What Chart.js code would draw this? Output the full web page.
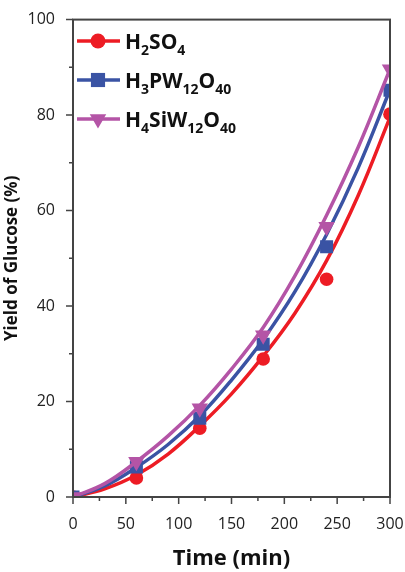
<!DOCTYPE html>
<html>
<head>
<meta charset="utf-8">
<script src="https://cdn.jsdelivr.net/npm/chart.js@4"></script>
<style>
  html, body { margin: 0; padding: 0; background: #fff; }
  #wrap { width: 405px; height: 572px; }
</style>
</head>
<body>
<div id="wrap"><canvas id="chart" width="405" height="572"></canvas></div>
<script>
const timeMin = [0, 60, 120, 180, 240, 300];
const yieldH2SO4 = [0, 4.0, 14.4, 28.9, 45.6, 80.2];
const yieldH3PW = [0, 6.3, 16.5, 32.0, 52.4, 85.2];
const yieldH4SiW = [0, 7.4, 18.6, 33.9, 56.6, 89.6];

// Fitted curves, every 30 min
const fitTime = [0, 30, 60, 90, 120, 150, 180, 210, 240, 270, 300];
const fitH2SO4 = [0, 1.7, 4.6, 9.0, 14.9, 21.6, 29.5, 38.5, 49.5, 63.2, 79.5];
const fitH3PW = [0, 2.3, 6.2, 11.0, 17.0, 24.5, 33.0, 43.0, 55.0, 69.0, 85.3];
const fitH4SiW = [0, 2.8, 7.4, 12.8, 19.2, 26.8, 35.5, 46.3, 59.0, 73.3, 89.6];

const seriesLabels = ['H₂SO₄', 'H₃PW₁₂O₄₀', 'H₄SiW₁₂O₄₀'];
const xTicks = [0, 50, 100, 150, 200, 250, 300];
const yTicks = [0, 20, 40, 60, 80, 100];

const colors = ['#ed1c24', '#3a53a4', '#b454a6'];
const axisColor = '#444444';
const FONT = "'Open Sans', sans-serif";

function toPoints(xs, values) {
    return values.map((v, i) => ({ x: xs[i], y: v }));
}

// marker for the legend, same shapes as the chart
function drawMarker(ctx, style, x, y, r, color) {
    ctx.save();
    ctx.fillStyle = color;
    ctx.beginPath();
    if (style === 'circle') {
        ctx.arc(x, y, r, 0, Math.PI * 2);
    } else if (style === 'rect') {
        const s = r * Math.SQRT1_2;
        ctx.rect(x - s, y - s, s * 2, s * 2);
    } else {
        // pointing down
        ctx.moveTo(x, y + r);
        ctx.lineTo(x - r * Math.sin(Math.PI / 3), y - r / 2);
        ctx.lineTo(x + r * Math.sin(Math.PI / 3), y - r / 2);
        ctx.closePath();
    }
    ctx.fill();
    ctx.restore();
}

// chemical formula with subscript digits
const subMap = { '₀': '0', '₁': '1', '₂': '2', '₃': '3', '₄': '4' };
function drawFormula(ctx, text, x, y) {
    let cx = x;
    for (const ch of text) {
        if (subMap[ch]) {
            ctx.font = "bold 14px " + FONT;
            ctx.fillText(subMap[ch], cx, y + 6);
            cx += ctx.measureText(subMap[ch]).width;
        } else {
            ctx.font = "bold 21px " + FONT;
            ctx.fillText(ch, cx, y);
            cx += ctx.measureText(ch).width;
        }
    }
}

const frameAndLegend = {
    id: 'frameAndLegend',
    afterDraw(chart) {
        const ctx = chart.ctx;
        const a = chart.chartArea;
        const xs = chart.scales.x;
        const ys = chart.scales.y;
        ctx.save();
        ctx.strokeStyle = axisColor;
        ctx.lineWidth = 2;
        ctx.strokeRect(a.left, a.top, a.right - a.left, a.bottom - a.top);

        // major + minor ticks, outside
        ctx.lineWidth = 1.5;
        ctx.beginPath();
        for (let v = 0; v <= 300; v += 25) {
            const px = xs.getPixelForValue(v);
            const len = v % 50 === 0 ? 7 : 4;
            ctx.moveTo(px, a.bottom);
            ctx.lineTo(px, a.bottom + len);
        }
        for (let v = 0; v <= 100; v += 10) {
            const py = ys.getPixelForValue(v);
            const len = v % 20 === 0 ? 7 : 4;
            ctx.moveTo(a.left, py);
            ctx.lineTo(a.left - len, py);
        }
        ctx.stroke();

        // legend
        const styles = ['circle', 'rect', 'triangle'];
        const radii = [7.5, 10, 9.5];
        const rowY = [41, 80, 119];
        ctx.textBaseline = 'alphabetic';
        seriesLabels.forEach((label, i) => {
            ctx.strokeStyle = colors[i];
            ctx.lineWidth = 3.5;
            ctx.beginPath();
            ctx.moveTo(77, rowY[i]);
            ctx.lineTo(120, rowY[i]);
            ctx.stroke();
            drawMarker(ctx, styles[i], 98, rowY[i], radii[i], colors[i]);
            ctx.fillStyle = '#111';
            drawFormula(ctx, label, 125, rowY[i] + 8);
        });
        ctx.restore();
    }
};

const pointValues = [yieldH2SO4, yieldH3PW, yieldH4SiW];
const fitValues = [fitH2SO4, fitH3PW, fitH4SiW];
const pointStyles = ['circle', 'rect', 'triangle'];
const pointSizes = [6.8, 9.2, 9.5];

const datasets = [];
pointValues.forEach((vals, i) => {
    datasets.push({
        label: seriesLabels[i] + ' fit',
        data: toPoints(fitTime, fitValues[i]),
        borderColor: colors[i],
        borderWidth: 3.5,
        pointRadius: 0,
        tension: 0.4,
        clip: 0,
        order: 6 - 2 * i
    });
    datasets.push({
        label: seriesLabels[i],
        data: toPoints(timeMin, vals),
        showLine: false,
        backgroundColor: colors[i],
        borderColor: colors[i],
        pointStyle: pointStyles[i],
        pointRotation: i === 2 ? 180 : 0,
        pointRadius: pointSizes[i],
        pointBorderWidth: 0,
        clip: 0,
        order: 5 - 2 * i
    });
});

new Chart(document.getElementById('chart'), {
    type: 'line',
    data: { datasets },
    options: {
        responsive: false,
        animation: false,
        layout: { padding: { top: 18, right: 15, left: 0, bottom: 0 } },
        plugins: {
            legend: { display: false },
            tooltip: { enabled: false }
        },
        scales: {
            x: {
                type: 'linear',
                min: 0,
                max: 300,
                afterBuildTicks: s => { s.ticks = xTicks.map(v => ({ value: v })); },
                afterFit: s => { s.height = 75; s.paddingRight = 0; s.paddingLeft = 0; },
                grid: { display: false },
                border: { display: false },
                ticks: {
                    padding: 10,
                    color: '#222',
                    font: { family: FONT, size: 16 },
                    maxRotation: 0
                },
                title: {
                    display: true,
                    text: 'Time (min)',
                    color: '#111',
                    font: { family: FONT, size: 22, weight: 'bold' },
                    padding: { top: 0, bottom: 0 }
                }
            },
            y: {
                min: 0,
                max: 100,
                afterBuildTicks: s => { s.ticks = yTicks.map(v => ({ value: v })); },
                afterFit: s => { s.width = 73; },
                grid: { display: false },
                border: { display: false },
                ticks: {
                    padding: 10,
                    color: '#222',
                    font: { family: FONT, size: 16 }
                },
                title: {
                    display: true,
                    text: 'Yield of Glucose (%)',
                    color: '#111',
                    font: { family: FONT, size: 17, weight: 'bold' },
                    padding: { top: 2, bottom: 0 }
                }
            }
        }
    },
    plugins: [frameAndLegend]
});
</script>
</body>
</html>
